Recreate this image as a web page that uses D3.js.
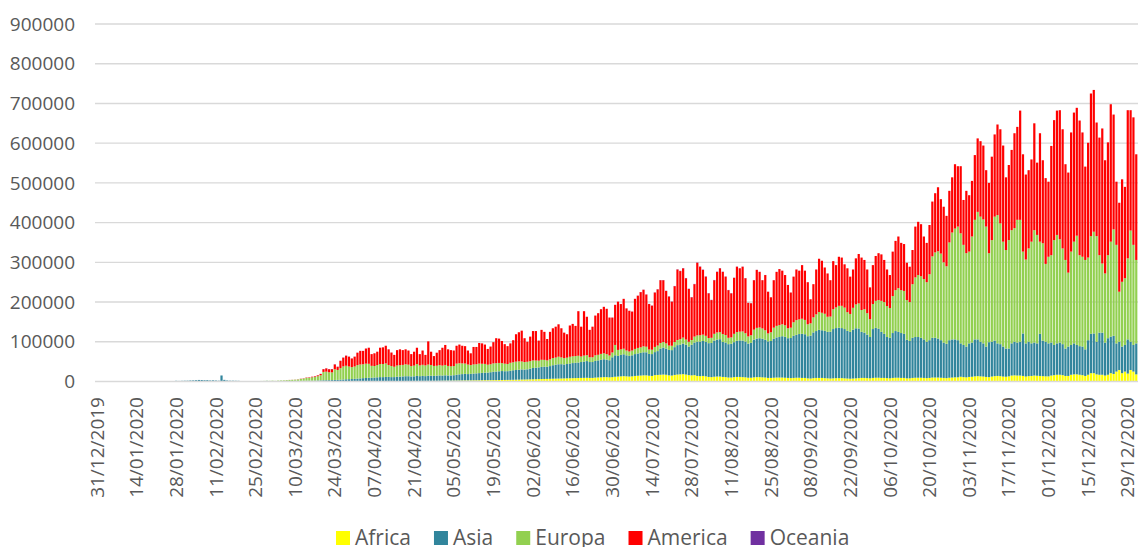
<!DOCTYPE html>
<html><head><meta charset="utf-8">
<script src="https://cdn.jsdelivr.net/npm/d3@7"></script>
<style>
html,body{margin:0;padding:0;background:#fff;}
svg{display:block;}
text{font-family:"Open Sans",sans-serif;fill:#595959;}
</style></head><body>
<svg id="chart" width="1138" height="547"></svg>
<script>
const startDate = "2019-12-31";
const seriesNames = ["Africa","Asia","Europa","America","Oceania"];
const seriesColors = ["#FFFF00","#31859C","#92D050","#FF0000","#7030A0"];
const tickLabels = ["31/12/2019","14/01/2020","28/01/2020","11/02/2020","25/02/2020","10/03/2020","24/03/2020","07/04/2020","21/04/2020","05/05/2020","19/05/2020","02/06/2020","16/06/2020","30/06/2020","14/07/2020","28/07/2020","11/08/2020","25/08/2020","08/09/2020","22/09/2020","06/10/2020","20/10/2020","03/11/2020","17/11/2020","01/12/2020","15/12/2020","29/12/2020"];
const yTicks = [0,100000,200000,300000,400000,500000,600000,700000,800000,900000];

const africa = [
0,0,0,0,0,0,0,0,0,0,
0,0,0,0,0,0,0,0,0,0,
0,0,0,0,0,0,0,0,0,0,
0,0,0,0,0,0,0,0,0,0,
0,0,0,0,0,1,0,0,0,0,
0,0,0,0,0,0,1,0,1,1,
2,3,2,4,6,8,12,15,20,18,
30,25,40,50,100,100,120,200,210,240,
300,320,300,330,400,420,500,520,600,620,
700,720,800,820,900,880,1000,950,980,1000,
1050,1000,1020,1100,1050,1100,1200,1200,1250,1300,
1300,1250,1500,1500,1450,1500,1500,1600,1600,1700,
1700,1800,2000,2100,2200,2200,2300,2400,2500,2600,
2700,2700,2800,2900,3000,3100,3200,3300,3300,3400,
3500,3600,3700,3800,3900,4000,4100,4300,4500,4700,
4900,5000,5200,5400,5600,5800,6000,6200,6400,6600,
6800,7000,7200,7400,7600,7800,8000,8200,8400,8600,
8800,9000,9200,9400,9000,9000,9800,10200,10500,11000,
11000,10500,11000,12000,12500,13000,13500,13000,12500,13000,
14000,14500,15000,15500,15500,14500,14000,16000,16500,17000,
17500,17000,15500,15000,16500,17500,18000,18500,17500,16000,
15500,16000,14000,13500,14000,13000,11500,11000,12000,12500,
12500,11500,11000,10000,10000,11000,11500,11500,11000,10500,
9500,9500,10500,11000,11000,10500,10000,9000,9000,9500,
10000,10000,10000,9500,9000,8500,9000,9500,9500,9000,
9000,8000,7500,8500,9000,9000,9000,8500,8000,7500,
8000,8500,8500,8500,8000,7500,7000,7500,8000,8500,
9000,9000,8500,8000,9000,9500,9500,9000,9000,8500,
8000,9000,9500,9500,9000,9000,8000,8000,9000,9500,
9500,9500,9000,8500,9000,10000,10000,10000,9500,9000,
8500,9500,10000,10500,10500,12000,11000,10500,11500,12000,
13000,13500,13000,12500,11500,11000,12500,13500,14000,13500,
12500,12000,13000,15000,15500,15000,15000,14000,12500,13500,
14000,15000,14500,14000,13500,13000,13000,15000,16000,17000,
17000,16000,14000,14000,17000,18000,18000,17000,16000,14000,
17000,21000,21000,18000,17000,17000,15000,17000,21000,19000,
25000,29000,21000,25000,20000,29000,25000,18000];

const asia = [
27,0,0,17,15,0,0,0,0,0,
0,1,0,1,1,0,4,17,136,19,
151,140,97,266,453,673,796,1000,1779,1477,
1755,2010,2127,2603,2836,3245,3903,3751,3207,3419,
2650,2987,2504,2046,15158,4144,2560,2021,2066,1888,
1755,834,1012,1140,1026,770,834,980,1110,1170,
1520,1060,1300,900,1150,1300,1200,1450,1350,1200,
1700,1500,1500,1600,1700,1800,1900,2000,2300,2500,
2800,2900,3000,3200,3500,3600,4000,4500,5000,5200,
5500,6000,6500,7000,7500,8000,8500,8500,9000,9500,
10000,10000,10500,10500,10000,10000,11000,11000,11500,12000,
12000,11500,11500,12500,12000,12500,12000,13000,13000,12500,
13000,13500,13000,13500,13000,13000,13500,14500,15500,16000,
16500,16000,16500,17000,17500,18000,18500,19000,19000,20000,
21000,21500,22000,22500,22000,22000,23000,24000,24500,25000,
25500,25000,25500,27000,28500,29000,29500,30500,31000,30500,
32000,34000,35000,36000,36000,35000,36000,37000,38000,38500,
39000,40000,41000,42000,40000,40000,42000,43000,44000,45000,
44000,43000,50000,54000,52000,54000,55000,53000,52000,53000,
55000,56000,57000,58000,58000,55000,55000,58000,60000,66000,
68000,66000,64000,64000,70000,74000,75000,77000,75000,72000,
77000,82000,86000,87000,88000,87000,85000,86000,91000,93000,
94000,88000,87000,84000,85000,88000,91000,92000,92000,90000,
86000,88000,95000,97000,98000,97000,95000,92000,93000,98000,
101000,102000,104000,103000,100000,101000,106000,108000,110000,111000,
110000,106000,108000,115000,118000,121000,120000,119000,117000,118000,
124000,126000,127000,126000,124000,120000,118000,123000,126000,125000,
116000,114000,109500,104000,123000,125500,123500,116000,111000,103500,
102000,113000,117500,115500,113000,111000,97000,94000,101000,102500,
102500,100500,97000,91500,95000,100000,100000,98000,94500,89000,
86500,94500,96000,95500,93500,84000,81000,77500,84500,86000,
93000,92500,87000,83500,76500,88000,87500,89500,82000,80500,
75500,71000,70000,81000,84500,83000,85000,107000,83500,86500,
82000,83000,81500,106000,89500,87000,83000,83000,76000,79000,
81000,78000,69000,74000,75000,78000,74000,72000,72000,67000,
87000,99000,100000,82000,106000,106000,83000,92000,92000,96000,
71000,71000,67000,67000,86000,71000,67000,78000];

const europa = [
0,0,0,0,0,0,0,0,0,0,
0,0,0,0,0,0,0,0,0,0,
0,0,0,0,3,0,0,1,4,0,
5,3,2,3,1,2,3,2,4,0,
1,2,4,2,0,1,0,2,0,0,
0,1,10,62,70,95,120,160,260,350,
450,600,750,700,1100,1300,1600,2000,2500,3000,
2800,3500,5000,5800,7300,7500,8600,9200,10800,12900,
21000,21500,20000,19500,27000,25000,29000,33000,34000,32000,
30000,31000,34000,35000,35000,36000,35000,30000,29000,31000,
33000,33000,34000,30000,28000,26000,28000,29000,29000,30000,
29000,26000,27000,30000,27000,28000,27000,28000,27000,25000,
25000,26000,25000,26000,24000,23000,23000,28000,28000,27000,
26000,24000,22000,23000,23000,24000,23000,22000,20000,20000,
21000,21000,21000,20000,19000,18000,20000,20000,21000,21000,
20000,19000,19000,19000,19000,18000,17000,18000,17000,16000,
17000,18000,18000,19000,17000,16000,16000,17000,17000,17000,
17000,14000,15000,15000,12000,12000,14000,14000,15000,15000,
14000,12000,12000,26000,15000,14000,14000,12000,11000,12000,
13000,14000,14000,15000,14000,11000,11000,13000,14000,14000,
14000,13000,11000,11000,13000,13000,14000,15000,13000,12000,
12000,15000,16000,16000,16000,15000,13000,13000,17000,18000,
18000,20000,19000,16000,16000,21000,22000,22000,23000,21000,
18000,19000,25000,27000,27000,26000,24000,20000,22000,28000,
29000,30000,30000,29000,25000,26000,34000,37000,37000,38000,
36000,30000,31000,38000,42000,45000,44000,43000,38000,38000,
50000,52000,55000,56000,54000,47000,45000,55000,60000,63000,
55000,59000,54000,45000,63000,68000,72000,78000,80000,78000,
75000,93000,103000,110000,108000,108000,100000,98000,135000,150000,
156000,155000,152000,150000,166000,205000,215000,220000,218000,202000,
195000,246000,269000,279000,286000,277000,252000,235000,231000,267000,
301000,321000,315000,312000,302000,224000,256000,312000,323000,304000,
264000,248000,273000,285000,286000,309000,307000,206000,211000,235000,
256000,283000,273000,232000,245000,196000,218000,220000,264000,273000,
260000,241000,223000,186000,235000,256000,275000,229000,226000,225000,
208000,246000,256000,266000,195000,174000,174000,209000,239000,268000,
248000,126000,163000,168000,204000,280000,252000,210000];

const america = [
0,0,0,0,0,0,0,0,0,0,
0,0,0,0,0,0,0,0,0,0,
0,1,0,1,1,2,1,0,0,0,
1,1,3,0,0,0,1,0,1,0,
0,1,0,1,0,0,0,0,0,1,
0,0,0,0,0,1,2,3,5,4,
10,15,20,25,40,60,80,120,150,200,
250,350,500,600,900,1100,1400,1600,2200,3400,
6900,8300,7700,8000,12100,8000,18500,22000,25400,24700,
21800,24800,31200,34200,33600,38100,40500,29500,32000,33500,
41000,42000,44500,39400,33900,29900,38800,39800,37300,37700,
35700,30200,35000,41000,28500,36000,26500,58400,33400,24800,
32800,37700,45000,50400,41800,40800,39200,45100,47000,44400,
43800,35300,29700,44100,43500,51900,51300,48700,39700,44600,
53500,62900,61300,55700,49100,45000,48900,55700,69000,73300,
77600,60000,50300,61600,73900,74200,50500,75300,70600,53900,
69200,75000,77800,81600,73400,64200,59000,78800,81600,75900,
112200,75000,111800,96600,69000,77000,100200,104800,112500,117000,
114000,95500,88000,101000,121500,114000,125500,106000,102500,98000,
126000,131500,139000,142500,131500,114500,111000,137000,141500,158000,
155500,132000,123500,111000,140500,177500,171000,174500,154500,133000,
107500,132000,183000,172500,163000,149000,112500,95000,135000,152500,
160500,156500,147000,120000,111000,141000,164500,159500,163000,138500,
84500,80500,124500,146000,140000,121500,139000,105000,88000,119500,
136000,141000,135000,126500,109000,88500,115000,127500,122500,135000,
124000,106000,60500,83500,113000,134000,131000,116500,109000,91500,
121000,106500,123500,121500,109000,110500,94000,96500,116000,124500,
132000,124000,110000,80000,98000,113000,118000,117000,106000,92000,
83000,112000,124000,130000,119000,118000,94000,89000,86000,128000,
134000,131000,107000,99000,124000,138000,149000,161000,137000,140000,
127000,130000,139000,162000,152000,169000,113000,157000,142000,140000,
163000,185000,190000,186000,142000,177000,210000,207000,228000,237000,
242000,183000,189000,202000,239000,234000,275000,245000,214000,197000,
207000,269000,182000,273000,209000,216000,189000,275000,302000,313000,
325000,300000,241000,252000,300000,325000,322000,339000,313000,235000,
289000,359000,357000,286000,296000,340000,285000,284000,346000,289000,
159000,224000,258000,230000,373000,303000,321000,266000];

const oceania = [
0,0,0,0,0,0,0,0,0,0,
0,0,0,0,0,0,0,0,0,0,
0,0,0,0,0,4,0,1,0,2,
0,0,3,0,0,1,0,0,0,0,
0,0,0,0,0,0,0,0,0,0,
0,0,0,0,0,0,0,1,0,2,
2,3,4,10,5,15,10,20,15,25,
30,40,50,60,80,120,100,150,180,220,
250,300,350,400,450,420,400,450,380,350,
300,260,250,200,180,150,130,100,100,90,
70,60,50,40,40,30,30,25,20,25,
20,18,22,15,20,25,18,15,20,15,
12,15,10,8,12,10,15,20,12,10,
8,10,15,12,10,8,12,15,10,8,
10,12,15,18,10,12,15,10,8,12,
15,18,12,10,15,20,18,15,22,25,
20,18,25,30,22,28,30,35,40,32,
35,40,38,45,50,42,48,55,60,70,
80,90,110,120,150,130,170,190,220,250,
280,300,320,310,290,330,360,380,400,420,
450,480,500,460,520,550,600,580,620,650,
600,680,700,660,720,690,650,600,620,580,
560,520,480,500,450,420,400,380,350,330,
300,280,260,250,230,210,190,170,160,150,
140,130,120,110,100,95,90,80,75,70,
65,60,55,50,45,50,40,45,35,30,
30,28,25,30,22,20,25,18,20,22,
15,18,20,16,14,18,20,22,25,18,
20,15,18,22,20,16,14,18,20,22,
25,20,18,15,20,22,25,18,16,20,
22,25,20,18,15,20,22,25,28,20,
18,22,25,20,18,16,22,25,28,30,
25,20,18,22,25,30,28,22,20,25,
28,30,25,22,20,25,28,30,25,22,
20,25,28,22,20,25,30,28,25,22,
25,30,35,28,40,45,38,30,25,35,
30,25,20,28,35,40,30,25];

const seriesValues = [africa, asia, europa, america, oceania];
const n = d3.min(seriesValues, s => s.length);
const fmt = d3.utcFormat("%d/%m/%Y");
const start = d3.utcParse("%Y-%m-%d")(startDate);
const categories = d3.utcDay.range(start, d3.utcDay.offset(start, n)).map(fmt);

const table = categories.map((c, i) => {
  const row = {date: c};
  seriesNames.forEach((s, k) => row[s] = seriesValues[k][i]);
  return row;
});

const svg = d3.select("#chart");
const plotLeft = 95.5, step = 2.832;
const x = d3.scaleBand().domain(categories)
  .range([plotLeft, plotLeft + step * n]).paddingInner(0.22).paddingOuter(0.11);
const y = d3.scaleLinear().domain([0, 900000]).range([381.5, 24]);
const color = d3.scaleOrdinal().domain(seriesNames).range(seriesColors);

// gridlines
svg.append("g").selectAll("line").data(yTicks.filter(v => v > 0)).join("line")
  .attr("x1", 95).attr("x2", 1138)
  .attr("y1", d => y(d)).attr("y2", d => y(d))
  .attr("stroke", "#d9d9d9").attr("stroke-width", 1.4);

const stacked = d3.stack().keys(seriesNames).offset(d3.stackOffsetDiverging)(table);
svg.append("g").selectAll("g").data(stacked).join("g")
  .attr("fill", d => color(d.key))
  .selectAll("rect").data(d => d).join("rect")
  .attr("x", d => x(d.data.date))
  .attr("width", x.bandwidth())
  .attr("y", d => y(Math.max(d[0], d[1])))
  .attr("height", d => Math.abs(y(d[0]) - y(d[1])));

// zero axis line
svg.append("line").attr("x1", 95).attr("x2", 1138)
  .attr("y1", y(0)).attr("y2", y(0))
  .attr("stroke", "#d9d9d9").attr("stroke-width", 1.4);

// y labels
svg.append("g").selectAll("text").data(yTicks).join("text")
  .attr("x", 75).attr("y", d => y(d)).attr("dy", "0.35em")
  .attr("text-anchor", "end").style("font-size", "19px")
  .text(d => d3.format("d")(d));

// x labels
svg.append("g").selectAll("text").data(tickLabels).join("text")
  .attr("transform", d => `translate(${x(d) + x.bandwidth() / 2},397) rotate(-90)`)
  .attr("dy", "0.35em").attr("text-anchor", "end").style("font-size", "19px")
  .text(d => d);

// legend
const lg = svg.append("g");
let lx = 336;
seriesNames.forEach((s, k) => {
  lg.append("rect").attr("x", lx).attr("y", 531).attr("width", 14).attr("height", 14)
    .attr("fill", seriesColors[k]);
  const t = lg.append("text").attr("x", lx + 19).attr("y", 545)
    .style("font-size", "21px").text(s);
  lx = lx + 19 + t.node().getComputedTextLength() + 23;
});
</script>
</body></html>
